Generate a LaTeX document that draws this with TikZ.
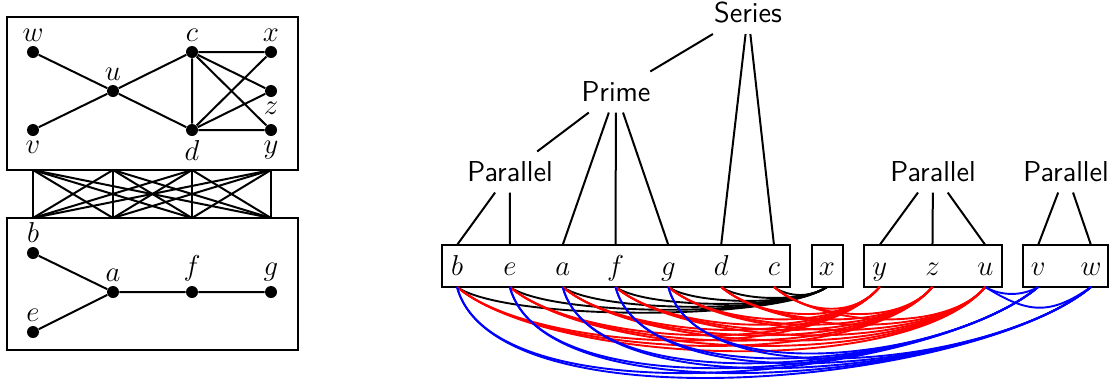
\documentclass[tikz,border=0pt]{standalone}
\usepackage{fontspec}
\usetikzlibrary{calc}
\newcommand\myarc[7]{%
  \pgfmathsetmacro\myD{(#2-#1)*52.83}%
  \pgfmathsetmacro\myd{#6+#7*\myD}%
  \pgfmathsetmacro\myax{\myd*cos(#4)}%
  \pgfmathsetmacro\myay{\myd*sin(#4)}%
  \pgfmathsetmacro\mybx{-\myd*cos(#5)}%
  \pgfmathsetmacro\myby{\myd*sin(#5)}%
  \draw[arcline,#3] (S#1) .. controls ($(S#1)+(\myax,\myay)$) and ($(S#2)+(\mybx,\myby)$) .. (S#2);%
}
\begin{document}
\begin{tikzpicture}[x=0.5pt,y=-0.5pt,
  dot/.style={circle,fill=black,inner sep=0pt,minimum size=6pt},
  gedge/.style={line width=1pt},
  bigbox/.style={line width=1.2pt},
  lab/.style={font=\fontsize{14.4}{17}\selectfont, inner sep=2pt},
  every label/.style={lab, label distance=0pt},
  tree/.style={font=\sffamily\fontsize{14.4}{17}\selectfont, inner sep=5pt},
  tline/.style={line width=1pt},
  mbox/.style={draw, line width=1.2pt, minimum height=21pt, inner sep=0pt},
  arcline/.style={line width=0.95pt}
]
\useasboundingbox (0,0) rectangle (1112,386);

% ---------- left: graph ----------
\draw[bigbox] (7,17) rectangle (298,170);
\draw[bigbox] (7,218) rectangle (298,350);

\node[dot,label=above:$w$] (w) at (33,52) {};
\node[dot,label=above:$c$] (c) at (192,52) {};
\node[dot,label=above:$x$] (x) at (271,52) {};
\node[dot,label=above:$u$] (u) at (113,91) {};
\node[dot,label=below:$z$] (z) at (271,91) {};
\node[dot,label=below:$v$] (v) at (33,130) {};
\node[dot,label=below:$d$] (d) at (192,130) {};
\node[dot,label=below:$y$] (y) at (271,130) {};

\draw[gedge] (w) -- (u) (v) -- (u) (u) -- (c) (u) -- (d)
  (c) -- (x) (c) -- (z) (c) -- (y) (c) -- (d)
  (d) -- (x) (d) -- (z) (d) -- (y);

\node[dot,label=above:$b$] (b) at (33,253) {};
\node[dot,label=above:$a$] (a) at (113,292) {};
\node[dot,label=above:$f$] (f) at (192,292) {};
\node[dot,label=above:$g$] (g) at (271,292) {};
\node[dot,label=above:$e$] (e) at (33,332) {};
\draw[gedge] (b) -- (a) (e) -- (a) (a) -- (f) (f) -- (g);

\foreach \xx [count=\k] in {33,113,192,271} {
  \coordinate (P\k) at (\xx,170);
  \coordinate (Q\k) at (\xx,218);
}
\foreach \k in {1,...,4} \foreach \m in {1,...,4} {
  \draw[gedge] (P\k) -- (Q\m);
}

% ---------- right: decomposition ----------
\foreach \n [count=\i from 0] in {b,e,a,f,g,d,c,x,y,z,u,v,w} {
  \pgfmathsetmacro\xx{457+52.83*\i}
  \node[lab, anchor=base] (L\i) at (\xx,275) {$\n$};
  \coordinate (T\i) at (\xx,245);
  \coordinate (S\i) at (\xx,287);
}
\node[mbox, minimum width=174pt] (B1) at (616,266) {};
\node[mbox, minimum width=15.5pt] (B2) at (827.5,266) {};
\node[mbox, minimum width=69pt] (B3) at (933,266) {};
\node[mbox, minimum width=42.5pt] (B4) at (1065.5,266) {};

\node[tree] (series) at (748,13) {Series};
\node[tree] (prime) at (616,92) {Prime};
\node[tree] (par1) at (510,172) {Parallel};
\node[tree] (par2) at (933,172) {Parallel};
\node[tree] (par3) at (1066,172) {Parallel};

\draw[tline] (series) -- (prime) (series) -- (T5) (series) -- (T6)
  (prime) -- (par1) (prime) -- (T2) (prime) -- (T3) (prime) -- (T4)
  (par1) -- (T0) (par1) -- (T1)
  (par2) -- (T8) (par2) -- (T9) (par2) -- (T10)
  (par3) -- (T11) (par3) -- (T12);

% arcs
\foreach \i in {0,...,6} {\myarc{\i}{7}{black}{35}{35}{11.7}{0.13}}
\foreach \i in {0,...,6} {\foreach \j in {8,9,10} {\myarc{\i}{\j}{red}{40}{50}{21}{0.19}}}
\foreach \i in {0,...,4} {\foreach \j in {11,12} {\myarc{\i}{\j}{blue}{75}{40}{53}{0.152}}}
\myarc{10}{11}{blue}{30}{30}{18.5}{0}
\myarc{10}{12}{blue}{32}{35}{50}{0}
\end{tikzpicture}
\end{document}
